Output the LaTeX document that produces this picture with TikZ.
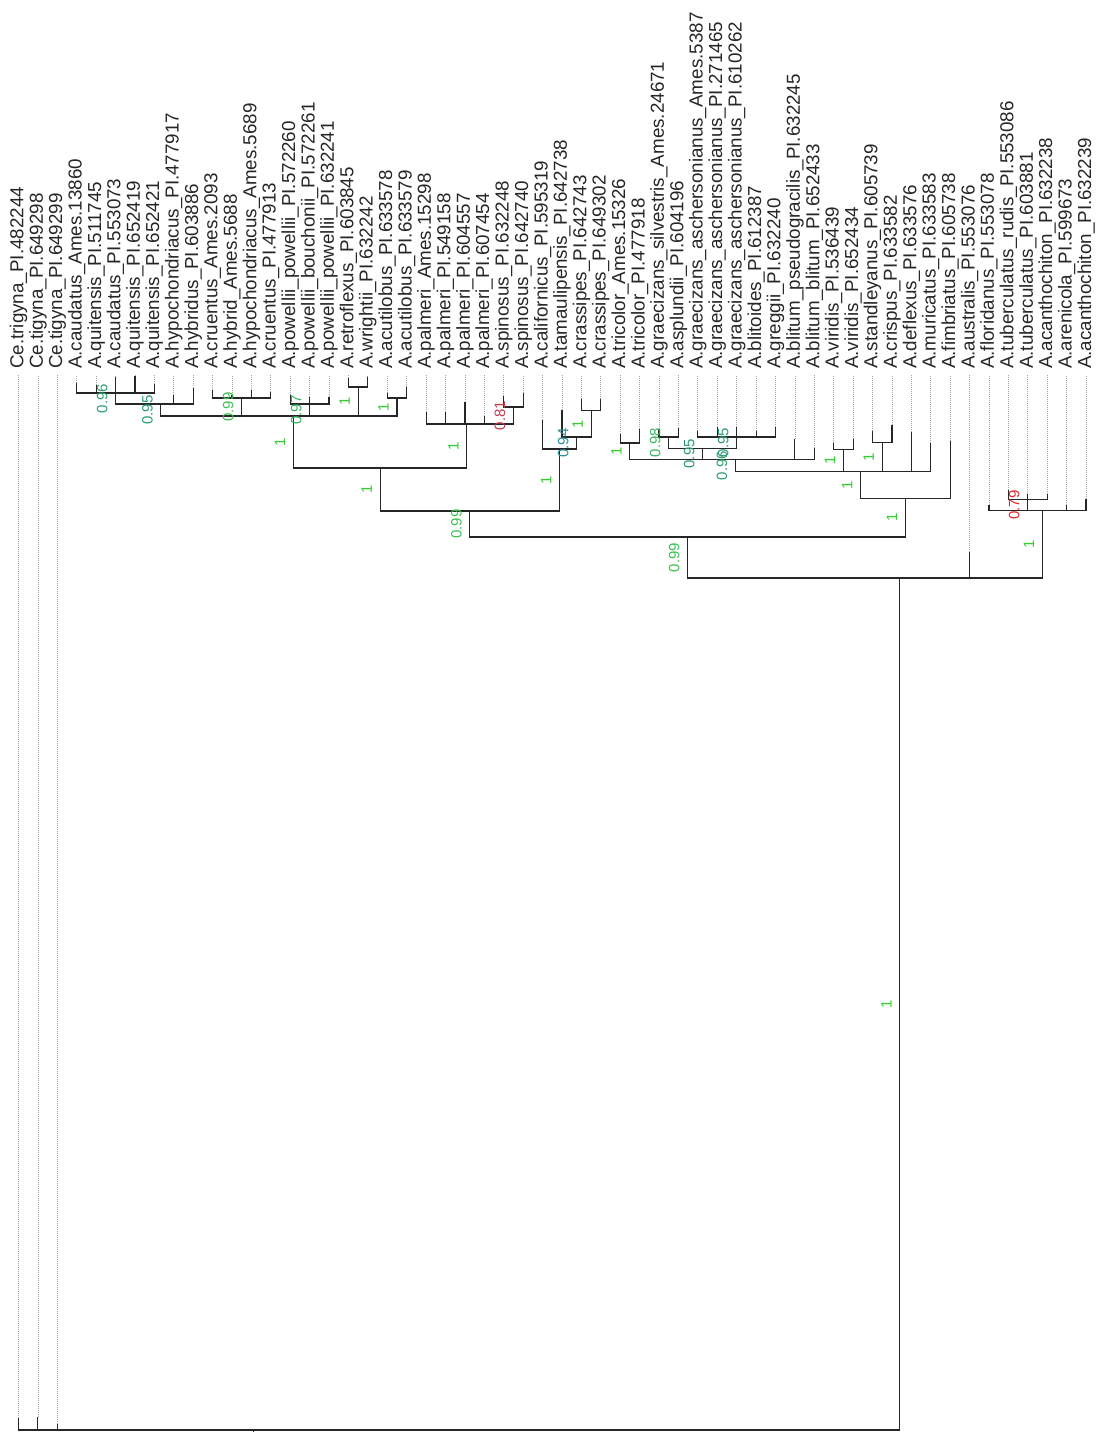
\documentclass[tikz,border=0pt]{standalone}
\usepackage{fontspec}
\setmainfont{Liberation Sans}
\usepackage{tikz}
\usetikzlibrary{calc}
\definecolor{sup100}{HTML}{33CC33}
\definecolor{sup99}{HTML}{3CC050}
\definecolor{sup98}{HTML}{3DB560}
\definecolor{sup97}{HTML}{36B060}
\definecolor{sup96}{HTML}{2E9E70}
\definecolor{sup95}{HTML}{2A9878}
\definecolor{sup94}{HTML}{2A8E96}
\definecolor{sup81}{HTML}{C8384E}
\definecolor{sup79}{HTML}{E02828}
% one elbow per child, down to the parent's bar
\newcommand{\clade}[2]{\foreach \ch in {#2}{\draw[branch] (\ch) |- (#1);}}
% support value on the stem of #1, left of it
\newcommand{\supval}[4]{\node[support, text=#4] (s#1) at ($(#1)!.5!(#1 |- #2) + (-13.5,0)$) {#3};}

\begin{document}
\begin{tikzpicture}[x=1pt, y=-1pt,
  every node/.style={font=\fontsize{18.8}{20}\selectfont},
  taxon/.style={rotate=90, anchor=west, inner sep=0pt, text=black!85},
  branch/.style={draw=black!85, line width=1.15pt},
  tipline/.style={draw=black!35, line width=0.8pt, dash pattern=on 1pt off 1pt, shorten >=6pt},
  support/.style={rotate=90, inner sep=0pt, font=\fontsize{15}{16}\selectfont}]
\useasboundingbox (0,0) rectangle (1098,1432);

% taxa: index / tip height / label
\foreach \i/\tip/\txt in {
  1/1418/Ce.trigyna\_PI.482244, 2/1417/Ce.tigyna\_PI.649298, 3/1424/Ce.tigyna\_PI.649299,
  4/383/A.caudatus\_Ames.13860, 5/385/A.quitensis\_PI.511745, 6/377/A.caudatus\_PI.553073,
  7/376/A.quitensis\_PI.652419, 8/384/A.quitensis\_PI.652421, 9/395/A.hypochondriacus\_PI.477917,
  10/388/A.hybridus\_PI.603886, 11/390/A.cruentus\_Ames.2093, 12/395/A.hybrid\_Ames.5688,
  13/390/A.hypochondriacus\_Ames.5689, 14/392/A.cruentus\_PI.477913,
  15/395/A.powellii\_powellii\_PI.572260, 16/397/A.powellii\_bouchonii\_PI.572261,
  17/397/A.powellii\_powellii\_PI.632241, 18/378/A.retroflexus\_PI.603845,
  19/377/A.wrightii\_PI.632242, 20/393/A.acutilobus\_PI.633578, 21/387/A.acutilobus\_PI.633579,
  22/412/A.palmeri\_Ames.15298, 23/412/A.palmeri\_PI.549158, 24/402/A.palmeri\_PI.604557,
  25/416/A.palmeri\_PI.607454, 26/396/A.spinosus\_PI.632248, 27/393/A.spinosus\_PI.642740,
  28/420/A.californicus\_PI.595319, 29/410/A.tamaulipensis\_PI.642738,
  30/399/A.crassipes\_PI.642743, 31/399/A.crassipes\_PI.649302, 32/434/A.tricolor\_Ames.15326,
  33/429/A.tricolor\_PI.477918, 34/429/A.graecizans\_silvestris\_Ames.24671,
  35/428/A.asplundii\_PI.604196, 36/431/A.graecizans\_aschersonianus\_Ames.5387,
  37/427/A.graecizans\_aschersonianus\_PI.271465, 38/427/A.graecizans\_aschersonianus\_PI.610262,
  39/431/A.blitoides\_PI.612387, 40/427/A.greggii\_PI.632240,
  41/439/A.blitum\_pseudogracilis\_PI.632245, 42/448/A.blitum\_blitum\_PI.652433,
  43/443/A.viridis\_PI.536439, 44/439/A.viridis\_PI.652434, 45/431/A.standleyanus\_PI.605739,
  46/425/A.crispus\_PI.633582, 47/432/A.deflexus\_PI.633576, 48/443/A.muricatus\_PI.633583,
  49/441/A.fimbriatus\_PI.605738, 50/552/A.australis\_PI.553076, 51/505/A.floridanus\_PI.553078,
  52/490/A.tuberculatus\_rudis\_PI.553086, 53/494/A.tuberculatus\_PI.603881,
  54/494/A.acanthochiton\_PI.632238, 55/505/A.arenicola\_PI.599673,
  56/499/A.acanthochiton\_PI.632239}{
  \coordinate (l\i) at ({18.5+(\i-1)*19.41},\tip);
  \node[taxon] (t\i) at ({18.5+(\i-1)*19.41},369) {\txt};
  \draw[tipline] (l\i) -- (t\i.west);
}

% internal nodes (x = mean of children, y = bar)
\coordinate (nA) at (115.8,393);
\coordinate (nB) at (160.9,404);
\coordinate (nD) at (241.7,398);
\coordinate (nE) at (309.7,404);
\coordinate (nF) at (358.2,387);
\coordinate (nG) at (397.0,398);
\coordinate (nC) at (293.5,416);
\coordinate (nI) at (513.5,407);
\coordinate (nH) at (466.9,424);
\coordinate (nJ) at (380.2,468);
\coordinate (nN) at (591.1,410.7);
\coordinate (nO) at (576.6,437);
\coordinate (nM) at (559.6,449);
\coordinate (nK) at (469.9,511);
\coordinate (nT) at (629.9,443);
\coordinate (nU) at (668.7,437);
\coordinate (nV) at (736.7,437);
\coordinate (nW) at (702.7,448.3);
\coordinate (nX) at (735.45,459.3);
\coordinate (nY) at (843.4,449.3);
\coordinate (nS) at (882.2,442.7);
\coordinate (nR) at (860.65,471.5);
\coordinate (nQ) at (905.4,498.3);
\coordinate (nP) at (687.65,537);
\coordinate (nAA) at (1027.8,499.3);
\coordinate (nZ) at (1042.35,510.7);
\coordinate (nAm) at (899.9,578);
\coordinate (root) at (253.4,1430);

\clade{nA}{l4,l5,l6,l7,l8}
\clade{nB}{nA,l9,l10}
\clade{nD}{l11,l12,l13,l14}
\clade{nE}{l15,l16,l17}
\clade{nF}{l18,l19}
\clade{nG}{l20,l21}
\clade{nC}{nB,nD,nE,nF,nG}
\clade{nI}{l26,l27}
\clade{nH}{l22,l23,l24,l25,nI}
\clade{nJ}{nC,nH}
\clade{nN}{l30,l31}
\clade{nO}{l29,nN}
\clade{nM}{l28,nO}
\clade{nK}{nJ,nM}
\clade{nT}{l32,l33}
\clade{nU}{l34,l35}
\clade{nV}{l36,l37,l38,l39,l40}
\clade{nW}{nU,nV}
\clade{nX}{nT,nW,l41,l42}
\clade{nY}{l43,l44}
\clade{nS}{l45,l46}
\clade{nR}{nX,nY,nS,l47,l48}
\clade{nQ}{nR,l49}
\clade{nP}{nK,nQ}
\clade{nAA}{l52,l53,l54}
\clade{nZ}{l51,nAA,l55,l56}
\clade{nAm}{nP,l50,nZ}
\clade{root}{l1,l2,l3,nAm}
\draw[branch] (root) -- ++(0,3);

% posterior values
\supval{nA}{nB}{0.96}{sup96}
\supval{nB}{nC}{0.95}{sup95}
\supval{nD}{nC}{0.99}{sup99}
\supval{nE}{nC}{0.97}{sup97}
\supval{nF}{nC}{1}{sup100}
\supval{nG}{nC}{1}{sup100}
\supval{nC}{nJ}{1}{sup100}
\supval{nI}{nH}{0.81}{sup81}
\supval{nH}{nJ}{1}{sup100}
\supval{nJ}{nK}{1}{sup100}
\supval{nN}{nO}{1}{sup100}
\supval{nO}{nM}{0.94}{sup94}
\supval{nM}{nK}{1}{sup100}
\supval{nK}{nP}{0.99}{sup99}
\supval{nT}{nX}{1}{sup100}
\supval{nU}{nW}{0.98}{sup98}
\supval{nV}{nW}{0.95}{sup95}
\supval{nW}{nX}{0.95}{sup95}
\supval{nX}{nR}{0.96}{sup96}
\supval{nY}{nR}{1}{sup100}
\supval{nS}{nR}{1}{sup100}
\supval{nR}{nQ}{1}{sup100}
\supval{nQ}{nP}{1}{sup100}
\supval{nP}{nAm}{0.99}{sup99}
\supval{nAA}{nZ}{0.79}{sup79}
\supval{nZ}{nAm}{1}{sup100}
\supval{nAm}{root}{1}{sup100}
\end{tikzpicture}
\end{document}
